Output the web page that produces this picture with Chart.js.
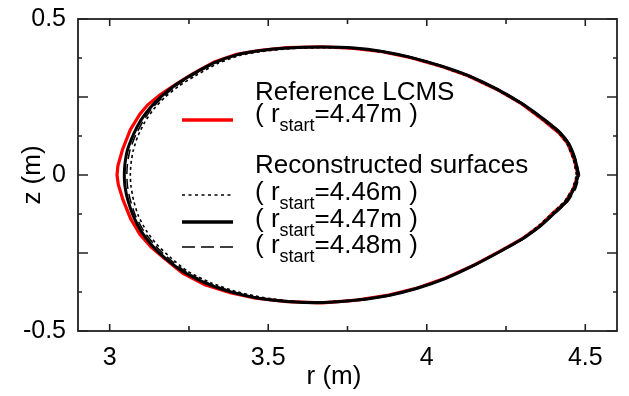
<!DOCTYPE html>
<html>
<head>
<meta charset="utf-8">
<title>LCMS reconstruction</title>
<script src="https://cdn.jsdelivr.net/npm/chart.js@4.4.1/dist/chart.umd.min.js"></script>
<style>
  html, body { margin: 0; padding: 0; background: #fff; }
  canvas { display: block; }
</style>
</head>
<body>
<canvas id="chart-lcms" width="629" height="396"></canvas>
<script>
// ---- axis ticks ----
const xTickValues = [3, 3.25, 3.5, 3.75, 4, 4.25, 4.5];
const xTickLabels = ['3', '', '3.5', '', '4', '', '4.5'];
const yTickValues = [-0.5, -0.375, -0.25, -0.125, 0, 0.125, 0.25, 0.375, 0.5];
const yTickLabels = ['-0.5', '', '', '', '0', '', '', '', '0.5'];

// ---- reference LCMS, r_start = 4.47 m ----
const lcmsR = [4.477, 4.465, 4.445, 4.418, 4.367, 4.30, 4.22, 4.13, 4.05, 3.95, 3.86, 3.77, 3.67, 3.56, 3.47, 3.40, 3.33, 3.26, 3.20, 3.16, 3.12, 3.095, 3.065, 3.04, 3.026, 3.023,
               3.027, 3.042, 3.066, 3.095, 3.13, 3.17, 3.23, 3.30, 3.38, 3.46, 3.56, 3.67, 3.78, 3.88, 3.97, 4.06, 4.15, 4.23, 4.30, 4.36, 4.40, 4.435, 4.462, 4.477];
const lcmsZ = [0, 0.05, 0.10, 0.134, 0.176, 0.228, 0.275, 0.318, 0.347, 0.376, 0.395, 0.406, 0.411, 0.408, 0.399, 0.387, 0.362, 0.323, 0.285, 0.258, 0.225, 0.195, 0.145, 0.08, 0.03, 0,
               -0.03, -0.08, -0.14, -0.19, -0.23, -0.265, -0.315, -0.352, -0.377, -0.395, -0.406, -0.41, -0.401, -0.385, -0.362, -0.33, -0.288, -0.245, -0.205, -0.16, -0.12, -0.09, -0.045, 0];

// ---- reconstructed surface, r_start = 4.46 m ----
const rec446R = [4.472, 4.462, 4.442, 4.415, 4.365, 4.30, 4.22, 4.13, 4.05, 3.95, 3.86, 3.77, 3.67, 3.57, 3.48, 3.41, 3.34, 3.27, 3.215, 3.173, 3.138, 3.111, 3.089, 3.074, 3.067, 3.065,
                 3.067, 3.075, 3.09, 3.115, 3.148, 3.189, 3.245, 3.32, 3.40, 3.48, 3.57, 3.67, 3.78, 3.88, 3.97, 4.06, 4.15, 4.23, 4.30, 4.355, 4.40, 4.435, 4.46, 4.472];
const rec446Z = [0, 0.05, 0.10, 0.135, 0.177, 0.226, 0.273, 0.316, 0.345, 0.375, 0.394, 0.405, 0.408, 0.405, 0.396, 0.383, 0.357, 0.318, 0.283, 0.248, 0.21, 0.17, 0.125, 0.078, 0.035, 0,
                 -0.035, -0.08, -0.13, -0.178, -0.222, -0.262, -0.308, -0.346, -0.374, -0.392, -0.404, -0.407, -0.399, -0.384, -0.361, -0.329, -0.287, -0.244, -0.203, -0.16, -0.118, -0.083, -0.042, 0];

// ---- reconstructed surface, r_start = 4.47 m ----
const rec447R = [4.478, 4.468, 4.448, 4.42, 4.37, 4.30, 4.22, 4.13, 4.05, 3.95, 3.86, 3.77, 3.67, 3.56, 3.47, 3.40, 3.33, 3.26, 3.205, 3.163, 3.127, 3.098, 3.075, 3.056, 3.048, 3.046,
                 3.048, 3.057, 3.074, 3.099, 3.133, 3.173, 3.235, 3.31, 3.39, 3.47, 3.57, 3.67, 3.78, 3.88, 3.97, 4.06, 4.15, 4.23, 4.30, 4.36, 4.405, 4.44, 4.465, 4.478];
const rec447Z = [0, 0.05, 0.10, 0.136, 0.178, 0.229, 0.276, 0.319, 0.348, 0.377, 0.396, 0.407, 0.41, 0.407, 0.398, 0.385, 0.36, 0.322, 0.287, 0.252, 0.215, 0.175, 0.13, 0.08, 0.035, 0,
                 -0.035, -0.08, -0.13, -0.18, -0.225, -0.265, -0.312, -0.35, -0.377, -0.395, -0.406, -0.409, -0.401, -0.386, -0.363, -0.331, -0.289, -0.246, -0.206, -0.162, -0.12, -0.085, -0.043, 0];

// ---- reconstructed surface, r_start = 4.48 m ----
const rec448R = [4.482, 4.47, 4.45, 4.422, 4.372, 4.305, 4.225, 4.135, 4.05, 3.95, 3.86, 3.77, 3.67, 3.565, 3.475, 3.405, 3.335, 3.265, 3.21, 3.168, 3.133, 3.105, 3.082, 3.064, 3.056, 3.054,
                 3.056, 3.065, 3.081, 3.107, 3.141, 3.181, 3.24, 3.315, 3.395, 3.475, 3.57, 3.67, 3.78, 3.88, 3.97, 4.06, 4.15, 4.23, 4.305, 4.362, 4.408, 4.445, 4.47, 4.482];
const rec448Z = [0, 0.05, 0.10, 0.137, 0.179, 0.228, 0.275, 0.318, 0.349, 0.378, 0.397, 0.408, 0.411, 0.408, 0.398, 0.385, 0.359, 0.321, 0.286, 0.25, 0.213, 0.172, 0.128, 0.08, 0.035, 0,
                 -0.035, -0.08, -0.13, -0.179, -0.223, -0.263, -0.31, -0.348, -0.376, -0.394, -0.405, -0.409, -0.401, -0.386, -0.363, -0.331, -0.289, -0.246, -0.205, -0.162, -0.12, -0.085, -0.043, 0];

// legend texts
const legendTitles = ['Reference LCMS', 'Reconstructed surfaces'];
const rStartLabels = ['4.47', '4.46', '4.47', '4.48'];

const FONT = '"Liberation Sans", Arial, sans-serif';

function toPoints(rs, zs) {
    return rs.map((r, i) => ({ x: r, y: zs[i] }));
}

// "( r_start=4.47m )" with subscript
function drawStartLabel(ctx, x, y, value) {
    ctx.font = `26px ${FONT}`;
    ctx.fillText('( r', x, y);
    let w = ctx.measureText('( r').width;
    ctx.font = `18px ${FONT}`;
    ctx.fillText('start', x + w, y + 9);
    w += ctx.measureText('start').width;
    ctx.font = `26px ${FONT}`;
    ctx.fillText(`=${value}m )`, x + w, y);
}

function sampleLine(ctx, y, color, width, dash) {
    ctx.save();
    ctx.strokeStyle = color;
    ctx.lineWidth = width;
    ctx.setLineDash(dash);
    ctx.beginPath();
    ctx.moveTo(182, y);
    ctx.lineTo(233, y);
    ctx.stroke();
    ctx.restore();
}

// frame, inward ticks, axis titles and legend
const framePlugin = {
    id: 'framePlugin',
    afterDraw(chart) {
        const { ctx, chartArea: a, scales: { x, y } } = chart;
        ctx.save();
        ctx.strokeStyle = '#222';
        ctx.lineWidth = 1.8;
        ctx.strokeRect(a.left, a.top, a.right - a.left, a.bottom - a.top);

        ctx.lineWidth = 1.6;
        ctx.beginPath();
        xTickValues.forEach((v, i) => {
            const px = x.getPixelForValue(v);
            const len = xTickLabels[i] ? 7 : 5;
            ctx.moveTo(px, a.bottom); ctx.lineTo(px, a.bottom - len);
            ctx.moveTo(px, a.top); ctx.lineTo(px, a.top + len);
        });
        yTickValues.forEach(v => {
            const py = y.getPixelForValue(v);
            const len = Math.abs(v * 4 - Math.round(v * 4)) < 1e-6 ? 10 : 4;
            ctx.moveTo(a.left, py); ctx.lineTo(a.left + len, py);
            ctx.moveTo(a.right, py); ctx.lineTo(a.right - len, py);
        });
        ctx.stroke();

        ctx.fillStyle = '#000';
        ctx.textBaseline = 'alphabetic';
        ctx.font = `26px ${FONT}`;
        ctx.textAlign = 'center';
        ctx.fillText('r (m)', 334, 384);
        ctx.save();
        ctx.translate(40, (a.top + a.bottom) / 2);
        ctx.rotate(-Math.PI / 2);
        ctx.fillText('z (m)', 0, 0);
        ctx.restore();

        ctx.textAlign = 'left';
        ctx.fillText(legendTitles[0], 255, 100);
        sampleLine(ctx, 120, '#ff0000', 3.5, []);
        drawStartLabel(ctx, 255, 122, rStartLabels[0]);

        ctx.font = `26px ${FONT}`;
        ctx.fillText(legendTitles[1], 255, 173);
        sampleLine(ctx, 195, '#000', 1.7, [3, 3.5]);
        drawStartLabel(ctx, 255, 200, rStartLabels[1]);
        sampleLine(ctx, 222, '#000', 3.3, []);
        drawStartLabel(ctx, 255, 227, rStartLabels[2]);
        sampleLine(ctx, 247, '#000', 1.7, [13, 6]);
        drawStartLabel(ctx, 255, 253, rStartLabels[3]);
        ctx.restore();
    }
};

const ctx = document.getElementById('chart-lcms').getContext('2d');
new Chart(ctx, {
    type: 'scatter',
    data: {
        datasets: [
            { label: 'r_start=4.47m', data: toPoints(rec447R, rec447Z), borderColor: '#000', borderWidth: 3, order: 1, tension: 0.2 },
            { label: 'r_start=4.48m', data: toPoints(rec448R, rec448Z), borderColor: '#000', borderWidth: 1.5, borderDash: [10, 5], order: 2, tension: 0.2 },
            { label: 'r_start=4.46m', data: toPoints(rec446R, rec446Z), borderColor: '#000', borderWidth: 1.6, borderDash: [3, 3], order: 3, tension: 0.2 },
            { label: 'Reference LCMS', data: toPoints(lcmsR, lcmsZ), borderColor: '#ff0000', borderWidth: 3.2, order: 4, tension: 0 },
        ].map(d => Object.assign({ showLine: true, pointRadius: 0, fill: false }, d))
    },
    options: {
        responsive: false,
        animation: false,
        layout: { padding: { top: 14, right: 12, left: 0, bottom: 0 } },
        plugins: { legend: { display: false }, tooltip: { enabled: false } },
        scales: {
            x: {
                type: 'linear', min: 2.9, max: 4.6,
                afterBuildTicks: s => { s.ticks = xTickValues.map(v => ({ value: v })); },
                afterFit: s => { s.height = 65; },
                ticks: { callback: (v, i) => xTickLabels[i], padding: 4, color: '#000', font: { family: FONT, size: 25 }, maxRotation: 0, autoSkip: false },
                grid: { display: false },
                border: { display: false }
            },
            y: {
                type: 'linear', min: -0.5, max: 0.5,
                afterBuildTicks: s => { s.ticks = yTickValues.map(v => ({ value: v })); },
                afterFit: s => { s.width = 78; },
                ticks: { callback: (v, i) => yTickLabels[i], padding: 4, color: '#000', font: { family: FONT, size: 25 }, autoSkip: false },
                grid: { display: false },
                border: { display: false }
            }
        }
    },
    plugins: [framePlugin]
});
</script>
</body>
</html>
